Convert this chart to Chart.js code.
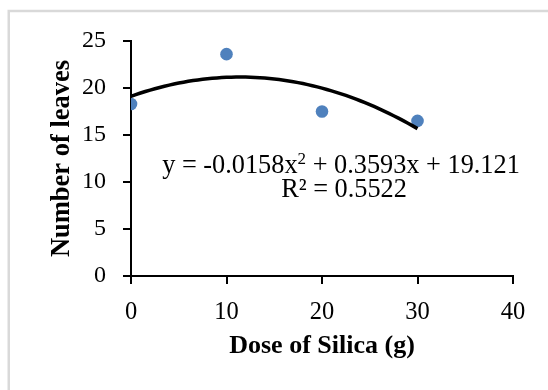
<!DOCTYPE html>
<html><head><meta charset="utf-8">
<script src="https://cdn.jsdelivr.net/npm/chart.js@4.4.0/dist/chart.umd.min.js"></script>
<style>html,body{margin:0;padding:0;background:#fff;}#wrap{width:548px;height:390px;}</style>
</head><body><div id="wrap"><canvas id="c" width="548" height="390"></canvas></div>
<script>
const doses = [0, 10, 20, 30];
const leaves = [18.3, 23.6, 17.5, 16.5];
const xTicks = [0, 10, 20, 30, 40];
const yTicks = [0, 5, 10, 15, 20, 25];
const trendCoef = [-0.0158, 0.3593, 19.121];
const trendRange = [0, 30];
const rSquared = 0.5522;
const xTitle = 'Dose of Silica (g)';
const yTitle = 'Number of leaves';

const trendPts = [];
for (let x = trendRange[0]; x <= trendRange[1]; x += 0.5) {
  trendPts.push({x: x, y: trendCoef[0]*x*x + trendCoef[1]*x + trendCoef[2]});
}
const scatterPts = doses.map((d, i) => ({x: d, y: leaves[i]}));

const SERIF = '"Liberation Serif", "Times New Roman", serif';

const framePlugin = {
  id: 'frame',
  beforeDraw(chart) {
    const ctx = chart.ctx;
    ctx.save();
    ctx.fillStyle = '#fff';
    ctx.fillRect(0, 0, chart.width, chart.height);
    ctx.strokeStyle = '#d9d9d9';
    ctx.lineWidth = 2.5;
    ctx.strokeRect(8.75, 11, 700, 600);
    ctx.restore();
  }
};

const eqPlugin = {
  id: 'eq',
  afterDraw(chart) {
    const ctx = chart.ctx;
    ctx.save();
    ctx.fillStyle = '#000';
    ctx.textBaseline = 'alphabetic';
    ctx.textAlign = 'left';
    const main = '26.3px ' + SERIF, sup = '17px ' + SERIF;
    const parts = [
      ['y = ' + trendCoef[0] + 'x', main, 0],
      ['2', sup, -9],
      [' + ' + trendCoef[1] + 'x + ' + trendCoef[2], main, 0]
    ];
    let total = 0;
    parts.forEach(p => { ctx.font = p[1]; p.push(ctx.measureText(p[0]).width); total += p[3]; });
    const cx = 341;
    let x = cx - total / 2;
    parts.forEach(p => { ctx.font = p[1]; ctx.fillText(p[0], x, 173 + p[2]); x += p[3]; });
    ctx.font = main;
    ctx.textAlign = 'center';
    ctx.fillText('R\u00B2 = ' + rSquared, 344, 197);
    ctx.restore();
  }
};

new Chart(document.getElementById('c'), {
  type: 'scatter',
  data: {
    datasets: [
      {
        type: 'line', data: trendPts, borderColor: '#000', borderWidth: 3.5,
        pointRadius: 0, fill: false, tension: 0, order: 0
      },
      {
        data: scatterPts, backgroundColor: '#4f81bd', borderColor: '#4f81bd',
        pointRadius: 6.3, pointBorderWidth: 0, order: 1
      }
    ]
  },
  options: {
    responsive: false,
    animation: false,
    layout: {padding: {left: 0, right: 35, top: 41, bottom: 0}},
    plugins: {legend: {display: false}, tooltip: {enabled: false}},
    scales: {
      x: {
        type: 'linear', min: 0, max: 40,
        afterFit(s) { s.height = 114; },
        afterBuildTicks(s) { s.ticks = xTicks.map(v => ({value: v})); },
        border: {display: true, color: '#000', width: 2},
        grid: {display: true, drawOnChartArea: false, drawTicks: true, tickLength: 8, color: '#000', lineWidth: 2},
        ticks: {color: '#000', font: {family: SERIF, size: 24.5}, padding: 14, maxRotation: 0},
        title: {display: true, text: xTitle, color: '#000', font: {family: SERIF, size: 26, weight: 'bold', lineHeight: 1.2}, padding: {top: 0, bottom: 28}}
      },
      y: {
        type: 'linear', min: 0, max: 25,
        afterFit(s) { s.width = 131; },
        afterBuildTicks(s) { s.ticks = yTicks.map(v => ({value: v})); },
        border: {display: true, color: '#000', width: 2},
        grid: {display: true, drawOnChartArea: false, drawTicks: true, tickLength: 8, color: '#000', lineWidth: 2},
        ticks: {color: '#000', font: {family: SERIF, size: 24}, padding: 17},
        title: {display: true, text: yTitle, color: '#000', font: {family: SERIF, size: 26.5, weight: 'bold', lineHeight: 1.2}, padding: {top: 46, bottom: 0}}
      }
    }
  },
  plugins: [framePlugin, eqPlugin]
});
</script>
</body></html>
